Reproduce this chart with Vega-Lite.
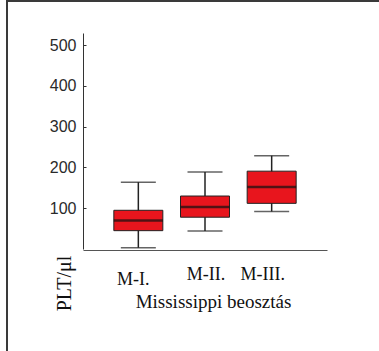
{
  "$schema": "https://vega.github.io/schema/vega-lite/v6.json",
  "autosize": {"type": "none"},
  "padding": {"left": 7, "top": 1, "right": -28, "bottom": -30},
  "width": 400,
  "height": 380,
  "background": "white",
  "config": {
    "view": {"stroke": "#3a3a3a", "strokeWidth": 2},
    "axis": {"grid": false}
  },
  "data": {
    "values": [
      {"group": "M-I.", "lower": 3, "q1": 45, "median": 70, "q3": 95, "upper": 164},
      {"group": "M-II.", "lower": 44, "q1": 78, "median": 103, "q3": 130, "upper": 189},
      {"group": "M-III.", "lower": 92, "q1": 112, "median": 152, "q3": 191, "upper": 229}
    ]
  },
  "encoding": {
    "x": {
      "field": "group",
      "type": "nominal",
      "sort": null,
      "scale": {"type": "band", "range": [76, 320], "paddingInner": 0, "paddingOuter": 0.33},
      "axis": {
        "title": "Mississippi beosztás",
        "titleFont": "Liberation Serif",
        "titleFontSize": 19,
        "titleFontWeight": "normal",
        "titleColor": "#111",
        "titleX": 206,
        "titleY": 57,
        "titleAlign": "center",
        "titleBaseline": "alphabetic",
        "labelFont": "Liberation Serif",
        "labelFontSize": 18,
        "labelColor": "#111",
        "labelAngle": 0,
        "labelBaseline": "alphabetic",
        "labelPadding": {"condition": {"test": "datum.value === 'M-I.'", "value": 34}, "value": 29},
        "labelOffset": {
          "condition": [
            {"test": "datum.value === 'M-I.'", "value": -5},
            {"test": "datum.value === 'M-III.'", "value": -9}
          ],
          "value": 1
        },
        "ticks": false,
        "tickSize": 0,
        "domainColor": "#555",
        "domainWidth": 1,
        "offset": -131
      }
    }
  },
  "layer": [
    {
      "mark": {"type": "rule", "color": "#222", "strokeWidth": 1.5},
      "encoding": {
        "y": {
          "field": "lower",
          "type": "quantitative",
          "title": "PLT/μl",
          "scale": {"domain": [0, 530], "range": [248, 32], "nice": false, "zero": true},
          "axis": {
            "title": "PLT/μl",
            "titleFont": "Liberation Serif",
            "titleFontSize": 20,
            "titleFontWeight": "normal",
            "titleColor": "#111",
            "titleAngle": 270,
            "titleX": -19,
            "titleY": 282,
            "titleAlign": "center",
            "titleBaseline": "middle",
            "values": [100, 200, 300, 400, 500],
            "labelFont": "Liberation Sans",
            "labelFontSize": 16,
            "labelColor": "#2a2a2a",
            "tickSize": -3,
            "tickColor": "#333",
            "labelPadding": 10,
            "domainColor": "#333",
            "domainWidth": 1,
            "offset": -76
          }
        },
        "y2": {"field": "upper"}
      }
    },
    {
      "mark": {"type": "tick", "color": "#222", "size": 35, "thickness": 1.5},
      "encoding": {"y": {"field": "lower", "type": "quantitative", "title": "PLT/μl"}}
    },
    {
      "mark": {"type": "tick", "color": "#222", "size": 35, "thickness": 1.5},
      "encoding": {"y": {"field": "upper", "type": "quantitative", "title": "PLT/μl"}}
    },
    {
      "mark": {"type": "bar", "size": 49, "color": "#e8151d", "stroke": "#222", "strokeWidth": 1},
      "encoding": {
        "y": {"field": "q1", "type": "quantitative", "title": "PLT/μl"},
        "y2": {"field": "q3"}
      }
    },
    {
      "mark": {"type": "tick", "color": "#111", "size": 49, "thickness": 2.5},
      "encoding": {"y": {"field": "median", "type": "quantitative", "title": "PLT/μl"}}
    }
  ]
}
